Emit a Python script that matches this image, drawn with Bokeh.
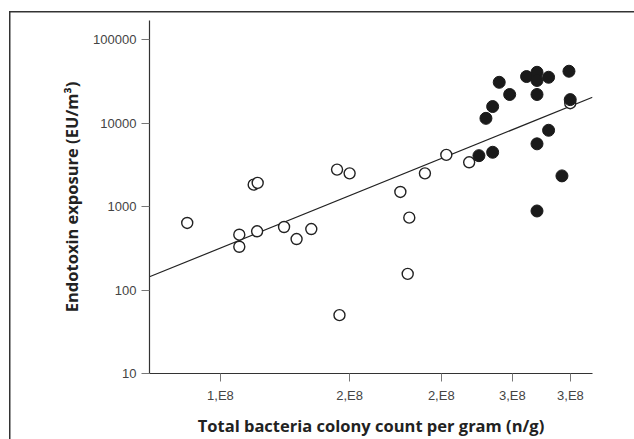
from bokeh.plotting import figure
from bokeh.models import FixedTicker, Range1d
from bokeh.embed import file_html
from bokeh.resources import INLINE

# Open circles (x: total bacteria colony count per gram, y: endotoxin exposure)
open_x = [9.01e7, 1.061e8, 1.061e8, 1.122e8, 1.110e8, 1.124e8, 1.221e8, 1.270e8,
          1.330e8, 1.442e8, 1.500e8, 1.453e8, 1.759e8, 1.900e8, 2.032e8, 1.809e8,
          1.800e8, 2.183e8, 2.998e8]
open_y = [636, 460, 330, 505, 1830, 1920, 569, 408,
          538, 2770, 2500, 50, 1497, 2500, 4160, 736,
          156, 3390, 17300]

# Filled circles
filled_x = [2.251e8, 2.350e8, 2.301e8, 2.350e8, 2.399e8, 2.479e8, 2.614e8, 2.701e8,
            2.701e8, 2.701e8, 2.801e8, 2.986e8, 2.998e8, 2.801e8, 2.701e8, 2.921e8,
            2.701e8]
filled_y = [4070, 4470, 11400, 15780, 30800, 22000, 36100, 40600,
            32400, 22000, 35400, 41800, 19100, 8200, 5640, 2330,
            885]

# Fit line end points
fit_x = [8.004e7, 3.215e8]
fit_y = [144, 20400]

x_ticks = [100000000, 150000000, 200000000, 250000000, 300000000]
x_tick_labels = ["1,E8", "2,E8", "2,E8", "3,E8", "3,E8"]
y_ticks = [10, 100, 1000, 10000, 100000]
y_tick_labels = ["10", "100", "1000", "10000", "100000"]

p = figure(width=634, height=439, x_axis_type="log", y_axis_type="log",
           x_range=Range1d(8.004e7, 3.215e8), y_range=Range1d(10, 169400),
           output_backend="svg", toolbar_location=None,
           min_border_left=149, min_border_right=42, min_border_top=20, min_border_bottom=66)

p.background_fill_color = "white"
p.border_fill_color = None
p.outline_line_color = None
p.grid.visible = False
p.styles = {
    "background-color": "white",
    "background-image": "linear-gradient(#333333, #333333), linear-gradient(#333333, #333333)",
    "background-size": "100% 1.5px, 1.5px 100%",
    "background-position": "9px 11px, 9px 11px",
    "background-repeat": "no-repeat",
}

p.line(fit_x, fit_y, line_color="#222222", line_width=1.2)
p.scatter(open_x, open_y, marker="circle", size=11, fill_color="white",
          line_color="#222222", line_width=1.4)
p.scatter(filled_x, filled_y, marker="circle", size=12, fill_color="#1a1a1a",
          line_color="#1a1a1a", line_width=1)

for ax in (p.xaxis[0], p.yaxis[0]):
    ax.axis_line_color = "#333333"
    ax.axis_line_width = 1.2
    ax.major_tick_line_color = "#777777"
    ax.major_tick_in = 0
    ax.major_tick_out = 8
    ax.minor_tick_line_color = None
    ax.major_label_text_font = "Liberation Sans"
    ax.major_label_text_font_size = "13px"
    ax.major_label_text_color = "#444444"
    ax.axis_label_text_font = "Open Sans"
    ax.axis_label_text_font_style = "bold"
    ax.axis_label_text_font_size = "16.5px"
    ax.axis_label_text_color = "#222222"

p.xaxis.ticker = FixedTicker(ticks=x_ticks)
p.xaxis.major_label_overrides = {t: l for t, l in zip(x_ticks, x_tick_labels)}
p.xaxis.axis_label = "Total bacteria colony count per gram (n/g)"
p.xaxis.major_label_standoff = 6
p.xaxis.axis_label_standoff = 8

p.yaxis.ticker = FixedTicker(ticks=y_ticks)
p.yaxis.major_label_overrides = {t: l for t, l in zip(y_ticks, y_tick_labels)}
p.yaxis.axis_label = "Endotoxin exposure (EU/m³)"
p.yaxis.major_label_standoff = 5
p.yaxis.axis_label_standoff = 7

open("out.html", "w").write(file_html(p, INLINE))
